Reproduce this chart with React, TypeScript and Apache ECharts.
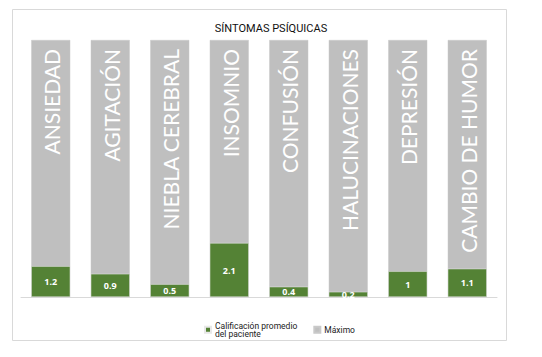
import React, { useEffect, useRef } from "react";
import * as echarts from "echarts";

const categories = [
  "ANSIEDAD",
  "AGITACIÓN",
  "NIEBLA CEREBRAL",
  "INSOMNIO",
  "CONFUSIÓN",
  "HALUCINACIONES",
  "DEPRESIÓN",
  "CAMBIO DE HUMOR",
];
const patientScores = [1.2, 0.9, 0.5, 2.1, 0.4, 0.2, 1, 1.1];
const maximumValues = [10, 10, 10, 10, 10, 10, 10, 10];
const seriesNames = ["Calificación promedio del paciente", "Máximo"];

export default function App() {
  const ref = useRef<HTMLDivElement>(null);
  useEffect(() => {
    if (!ref.current) return;
    const chart = echarts.init(ref.current, null, { renderer: "svg" });
    chart.setOption({
      animation: false,
      backgroundColor: "#ffffff",
      title: {
        text: "SÍNTOMAS PSÍQUICAS",
        left: "center",
        top: 18,
        textStyle: {
          fontFamily: "Roboto",
          fontSize: 11,
          fontWeight: "normal",
          color: "#111",
        },
      },
      graphic: [
        {
          type: "rect",
          shape: { x: 12.5, y: 9.5, width: 494, height: 331 },
          style: { fill: "none", stroke: "#d9d9d9", lineWidth: 1 },
          silent: true,
          z: -1,
        },
      ],
      legend: {
        data: seriesNames,
        left: 199,
        top: 316,
        itemWidth: 6,
        itemHeight: 6,
        itemGap: 16,
        icon: "rect",
        formatter: (n: string) =>
          n === seriesNames[0] ? "Calificación promedio\ndel paciente" : n,
        textStyle: {
          fontFamily: "Roboto",
          fontSize: 8.5,
          lineHeight: 8.5,
          color: "#222",
          padding: [0, 0, 0, -1],
        },
      },
      grid: { left: 21, right: 45, top: 40, bottom: 60 },
      xAxis: {
        type: "category",
        data: categories,
        axisLine: { lineStyle: { color: "#d9d9d9" } },
        axisTick: { show: false },
        axisLabel: { show: false },
      },
      yAxis: {
        type: "value",
        min: 0,
        max: 10,
        show: false,
        splitLine: { show: false },
      },
      series: [
        {
          name: seriesNames[1],
          type: "bar",
          data: maximumValues,
          barWidth: 39,
          barGap: "-100%",
          itemStyle: { color: "#bfbfbf", borderColor: "#c9c9c9", borderWidth: 0.5 },
          label: {
            show: true,
            formatter: "{b}",
            position: "insideTop",
            rotate: 90,
            align: "right",
            verticalAlign: "middle",
            distance: 9,
            offset: [0, 1],
            color: "#ffffff",
            fontFamily: "Lato",
            fontSize: 21,
          },
          z: 1,
        },
        {
          name: seriesNames[0],
          type: "bar",
          data: patientScores,
          barWidth: 39,
          itemStyle: { color: "#548235", borderColor: "#e8e8e8", borderWidth: 0.5 },
          label: {
            show: true,
            position: "inside",
            color: "#ffffff",
            fontFamily: "Open Sans",
            fontWeight: "bold",
            fontSize: 9,
          },
          z: 2,
        },
      ],
    });
    return () => chart.dispose();
  }, []);
  return (
    <div
      ref={ref}
      style={{ width: 542, height: 357, position: "fixed", left: 0, top: 0 }}
    />
  );
}
